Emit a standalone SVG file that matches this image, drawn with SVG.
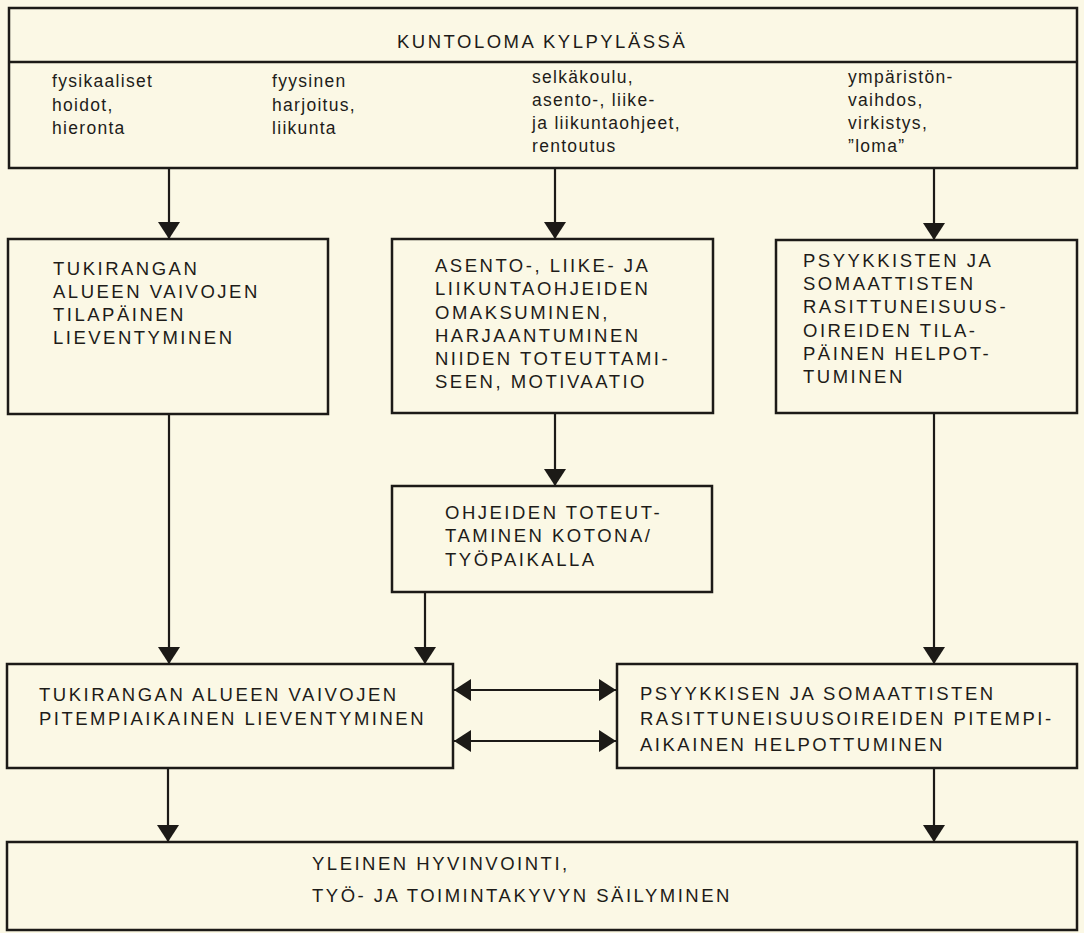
<svg xmlns="http://www.w3.org/2000/svg" width="1084" height="933" viewBox="0 0 1084 933">
<style>
  .box { fill: none; stroke: #1c1a17; stroke-width: 2.5; }
  .line { fill: none; stroke: #1c1a17; stroke-width: 2.2; }
  .cap { font-family: "Liberation Sans", Arial, sans-serif; font-size: 18.5px; letter-spacing: 2.5px; fill: #1e1c19; }
  .low { font-family: "Liberation Sans", Arial, sans-serif; font-size: 17.5px; letter-spacing: 1.3px; fill: #1e1c19; }
</style>
<defs>
  <marker id="ah" viewBox="0 0 17 22" refX="17" refY="11" markerWidth="17" markerHeight="22" markerUnits="userSpaceOnUse" orient="auto-start-reverse">
    <path d="M0,0 L17,11 L0,22 Z" fill="#1c1a17"/>
  </marker>
</defs>
<rect width="1084" height="933" fill="#fbf8e5"/>

<g id="top">
  <rect class="box" x="9" y="8" width="1068" height="160"/>
  <line class="box" x1="9" y1="62" x2="1077" y2="62"/>
  <text class="cap" x="397" y="48">KUNTOLOMA KYLPYLÄSSÄ</text>
  <text class="low" x="52" y="87">fysikaaliset</text>
  <text class="low" x="52" y="111">hoidot,</text>
  <text class="low" x="52" y="134">hieronta</text>
  <text class="low" x="272" y="87">fyysinen</text>
  <text class="low" x="272" y="111">harjoitus,</text>
  <text class="low" x="272" y="134">liikunta</text>
  <text class="low" x="532" y="83">selkäkoulu,</text>
  <text class="low" x="532" y="106">asento-, liike-</text>
  <text class="low" x="532" y="129">ja liikuntaohjeet,</text>
  <text class="low" x="532" y="152">rentoutus</text>
  <text class="low" x="848" y="83">ympäristön-</text>
  <text class="low" x="848" y="106">vaihdos,</text>
  <text class="low" x="848" y="129">virkistys,</text>
  <text class="low" x="848" y="152">”loma”</text>
</g>

<g id="tilapainen-lievent">
  <rect class="box" x="8" y="239" width="320" height="175"/>
  <text class="cap" x="53" y="275">TUKIRANGAN</text>
  <text class="cap" x="53" y="298">ALUEEN VAIVOJEN</text>
  <text class="cap" x="53" y="321">TILAPÄINEN</text>
  <text class="cap" x="53" y="344">LIEVENTYMINEN</text>
</g>

<g id="omaksuminen">
  <rect class="box" x="392" y="239" width="321" height="174"/>
  <text class="cap" x="435" y="272">ASENTO-, LIIKE- JA</text>
  <text class="cap" x="435" y="295">LIIKUNTAOHJEIDEN</text>
  <text class="cap" x="435" y="319">OMAKSUMINEN,</text>
  <text class="cap" x="435" y="342">HARJAANTUMINEN</text>
  <text class="cap" x="435" y="365">NIIDEN TOTEUTTAMI-</text>
  <text class="cap" x="435" y="388">SEEN, MOTIVAATIO</text>
</g>

<g id="tilapainen-helpot">
  <rect class="box" x="776" y="240" width="301" height="173"/>
  <text class="cap" x="803" y="267">PSYYKKISTEN JA</text>
  <text class="cap" x="803" y="290">SOMAATTISTEN</text>
  <text class="cap" x="803" y="313">RASITTUNEISUUS-</text>
  <text class="cap" x="803" y="337">OIREIDEN TILA-</text>
  <text class="cap" x="803" y="360">PÄINEN HELPOT-</text>
  <text class="cap" x="803" y="383">TUMINEN</text>
</g>

<g id="kotona">
  <rect class="box" x="392" y="486" width="320" height="106"/>
  <text class="cap" x="445" y="519">OHJEIDEN TOTEUT-</text>
  <text class="cap" x="445" y="542">TAMINEN KOTONA/</text>
  <text class="cap" x="445" y="566">TYÖPAIKALLA</text>
</g>

<g id="pitempi-lievent">
  <rect class="box" x="7" y="664" width="446" height="104"/>
  <text class="cap" x="39" y="701">TUKIRANGAN ALUEEN VAIVOJEN</text>
  <text class="cap" x="39" y="725">PITEMPIAIKAINEN LIEVENTYMINEN</text>
</g>

<g id="pitempi-helpot">
  <rect class="box" x="617" y="664" width="460" height="104"/>
  <text class="cap" x="640" y="700">PSYYKKISEN JA SOMAATTISTEN</text>
  <text class="cap" x="640" y="725">RASITTUNEISUUSOIREIDEN PITEMPI-</text>
  <text class="cap" x="640" y="751">AIKAINEN HELPOTTUMINEN</text>
</g>

<g id="hyvinvointi">
  <rect class="box" x="7" y="842" width="1070" height="88"/>
  <text class="cap" x="312" y="870">YLEINEN HYVINVOINTI,</text>
  <text class="cap" x="312" y="902">TYÖ- JA TOIMINTAKYVYN SÄILYMINEN</text>
</g>

<g id="connectors">
  <line class="line" x1="169" y1="168" x2="169" y2="239" marker-end="url(#ah)"/>
  <line class="line" x1="555" y1="168" x2="555" y2="239" marker-end="url(#ah)"/>
  <line class="line" x1="934" y1="168" x2="934" y2="240" marker-end="url(#ah)"/>
  <line class="line" x1="169" y1="414" x2="169" y2="664" marker-end="url(#ah)"/>
  <line class="line" x1="555" y1="413" x2="555" y2="486" marker-end="url(#ah)"/>
  <line class="line" x1="425" y1="592" x2="425" y2="664" marker-end="url(#ah)"/>
  <line class="line" x1="934" y1="413" x2="934" y2="664" marker-end="url(#ah)"/>
  <line class="line" x1="168" y1="768" x2="168" y2="842" marker-end="url(#ah)"/>
  <line class="line" x1="934" y1="768" x2="934" y2="842" marker-end="url(#ah)"/>
  <line class="line" x1="454" y1="690" x2="616" y2="690" marker-start="url(#ah)" marker-end="url(#ah)"/>
  <line class="line" x1="454" y1="741" x2="616" y2="741" marker-start="url(#ah)" marker-end="url(#ah)"/>
</g>
</svg>
